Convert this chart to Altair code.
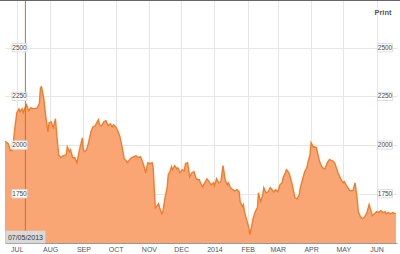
import altair as alt
import pandas as pd

# ---- data ----
start_date = "2013-06-20"
day_offset = [
    0, 3, 5, 7, 9, 11, 13, 14, 16, 17,
    19, 20, 22, 24, 27, 30, 32, 33, 34, 36,
    38, 40, 41, 43, 45, 47, 48, 50, 52, 54,
    57, 58, 60, 61, 63, 65, 67, 69, 70, 72,
    73, 74, 76, 78, 80, 82, 84, 86, 87, 88,
    90, 92, 94, 96, 98, 100, 101, 103, 105, 107,
    109, 111, 113, 114, 116, 118, 120, 122, 124, 126,
    127, 129, 131, 132, 133, 135, 137, 138, 139, 140,
    141, 143, 144, 146, 147, 149, 151, 152, 154, 155,
    156, 158, 160, 161, 163, 165, 167, 168, 170, 172,
    174, 176, 178, 180, 181, 182, 184, 186, 188, 190,
    192, 194, 195, 197, 199, 201, 203, 205, 207, 208,
    210, 212, 214, 216, 218, 219, 221, 222, 223, 225,
    227, 228, 229, 231, 233, 235, 236, 237, 238, 240,
    241, 243, 245, 247, 248, 250, 252, 254, 256, 258,
    259, 261, 262, 263, 265, 267, 269, 270, 272, 274,
    275, 277, 279, 281, 282, 284, 285, 287, 288, 290,
    291, 293, 295, 296, 298, 300, 302, 305, 307, 310,
    313, 315, 316, 318, 321, 324, 326, 328, 329, 331,
    333, 335, 337, 339, 341, 342, 344, 346, 348, 350,
    352, 354, 355, 357, 359, 361, 364,
]
price = [
    2019, 2007, 1971, 1976, 2079, 2166, 2186, 2171, 2186, 2166,
    2196, 2207, 2176, 2191, 2186, 2191, 2212, 2294, 2299, 2243,
    2145, 2068, 2114, 2120, 2089, 2135, 2063, 1950, 1935, 1945,
    1950, 1991, 1966, 1976, 1935, 1935, 1909, 1966, 1991, 2037,
    1976, 1966, 1976, 2017, 2068, 2094, 2099, 2120, 2130, 2104,
    2099, 2120, 2125, 2099, 2109, 2094, 2104, 2094, 2073, 2043,
    1991, 1930, 1919, 1909, 1925, 1935, 1940, 1945, 1935, 1940,
    1930, 1899, 1858, 1883, 1909, 1904, 1909, 1883, 1771, 1678,
    1683, 1699, 1678, 1647, 1658, 1729, 1781, 1848, 1868, 1889,
    1873, 1894, 1878, 1883, 1858, 1873, 1868, 1904, 1909, 1837,
    1858, 1863, 1827, 1822, 1822, 1806, 1786, 1806, 1827, 1812,
    1796, 1806, 1791, 1827, 1806, 1812, 1894, 1822, 1796, 1806,
    1781, 1771, 1765, 1771, 1760, 1709, 1683, 1694, 1658, 1617,
    1576, 1540, 1565, 1622, 1658, 1678, 1755, 1729, 1709, 1745,
    1781, 1755, 1760, 1781, 1776, 1760, 1771, 1760, 1796, 1806,
    1832, 1858, 1873, 1868, 1848, 1806, 1755, 1729, 1724, 1745,
    1781, 1822, 1863, 1883, 1909, 1950, 2012, 1991, 1991, 1986,
    1960, 1914, 1889, 1883, 1878, 1909, 1925, 1919, 1909, 1858,
    1822, 1806, 1812, 1791, 1766, 1766, 1806, 1719, 1658, 1632,
    1622, 1632, 1653, 1694, 1658, 1637, 1647, 1658, 1653, 1663,
    1653, 1658, 1647, 1653, 1647, 1653, 1647,
]
y_ticks = [1750, 2000, 2250, 2500]
month_ticks = [(2013, m) for m in range(7, 13)] + [(2014, m) for m in range(1, 7)]
cursor_date = "2013-07-09"
cursor_label = "07/05/2013"
print_label = "Print"

n = min(len(day_offset), len(price))
df = pd.DataFrame({
    "date": pd.to_datetime(start_date) + pd.to_timedelta(day_offset[:n], unit="D"),
    "price": price[:n],
})
ticks_df = pd.DataFrame({"v": y_ticks, "label": [str(v) for v in y_ticks]})
cursor_df = pd.DataFrame({"date": [pd.to_datetime(cursor_date)], "label": [cursor_label]})

FONT = "Liberation Sans"
x_scale = alt.Scale(domain=[alt.DateTime(year=2013, month=6, date=20),
                            alt.DateTime(year=2014, month=6, date=20)])
y_scale = alt.Scale(domain=[1497, 2745], nice=False, zero=False)

x_axis = alt.Axis(
    values=[alt.DateTime(year=y, month=m, date=1) for y, m in month_ticks],
    labelExpr="month(datum.value) == 0 ? timeFormat(datum.value, '%Y') : upper(timeFormat(datum.value, '%b'))",
    title=None, grid=True, gridColor="#e6e6e6", gridWidth=1,
    domainColor="#999999", domainWidth=1, ticks=False,
    labelFontSize=7, labelColor="#555555", labelFont=FONT, labelPadding=2,
    labelOverlap=False, labelFlush=False, labelBound=False,
)
y_axis = alt.Axis(values=y_ticks, title=None, labels=False, ticks=False,
                  domain=False, grid=True, gridColor="#e6e6e6", gridWidth=1)

X = dict(field="date", type="temporal", scale=x_scale, axis=x_axis)

area = alt.Chart(df).mark_area(
    color="#F9A674", opacity=1, clip=True,
    line={"color": "#EE7D2E", "strokeWidth": 1.4},
).encode(
    x=alt.X(**X),
    y=alt.Y("price:Q", scale=y_scale, axis=y_axis),
)

cursor = alt.Chart(cursor_df).mark_rule(color="#C0703A", strokeWidth=1).encode(
    x=alt.X(**X),
)

box_path = "M-1,-0.55L1,-0.55L1,0.55L-1,0.55Z"
left_box = alt.Chart(ticks_df).mark_point(
    shape=box_path, size=225, filled=True, fill="white", stroke="#dddddd",
    strokeWidth=1, opacity=1,
).encode(x=alt.value(14.5), y=alt.Y("v:Q", scale=y_scale, axis=y_axis))
left_txt = alt.Chart(ticks_df).mark_text(
    fontSize=6.5, font=FONT, color="#444444", align="center", baseline="middle",
).encode(x=alt.value(14.5), y=alt.Y("v:Q", scale=y_scale, axis=y_axis), text="label:N")
right_box = left_box.encode(x=alt.value(380))
right_txt = left_txt.encode(x=alt.value(380))

date_box = alt.Chart(cursor_df).mark_point(
    shape="M-1,-0.27L1,-0.27L1,0.27L-1,0.27Z", size=1444, filled=True,
    fill="#d9d9d9", stroke="#d9d9d9", opacity=1,
).encode(x=alt.X(**X), y=alt.value(237))
date_txt = alt.Chart(cursor_df).mark_text(
    fontSize=7, font=FONT, color="#333333", align="center", baseline="middle",
).encode(x=alt.X(**X), y=alt.value(237.5), text="label:N")

print_txt = alt.Chart(pd.DataFrame({"t": [print_label]})).mark_text(
    fontSize=7.5, font=FONT, fontWeight="bold", color="#555555",
    align="center", baseline="middle",
).encode(x=alt.value(378), y=alt.value(13), text="t:N")

top_border = alt.Chart(pd.DataFrame({"a": [0]})).mark_rule(
    color="#666666", strokeWidth=2,
).encode(x=alt.value(-5), x2=alt.value(395), y=alt.value(0))

chart = alt.layer(
    area, cursor, left_box, left_txt, right_box, right_txt,
    date_box, date_txt, print_txt, top_border,
).properties(
    width=392, height=243,
    autosize=alt.AutoSizeParams(type="none"),
    padding={"left": 5, "top": 0, "right": 3, "bottom": 11},
    background="white",
).configure_view(stroke=None).configure_axis(labelOverlap=False)

chart.save("out.html", embed_options={"renderer": "svg", "actions": False})
